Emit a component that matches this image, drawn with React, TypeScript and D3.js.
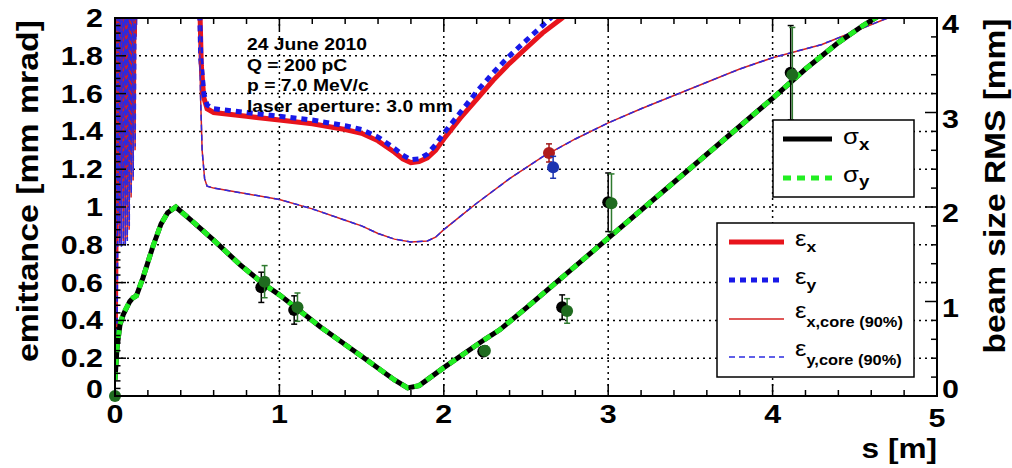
import React from 'react';
import * as d3 from 'd3';

type Pt = [number, number];

// s [m] vs emittance [mm mrad]
const emitX: Pt[] = [
  [0, 0.12], [0.004, 0.55], [0.008, 1.05], [0.012, 1.22], [0.016, 2.4], [0.021, 1.3], [0.026, 2.4],
  [0.031, 1.78], [0.036, 2.4], [0.041, 1.8], [0.046, 2.4], [0.052, 1.82], [0.058, 2.4], [0.064, 1.7],
  [0.07, 2.4], [0.076, 1.55], [0.083, 2.4], [0.09, 1.45], [0.097, 2.4], [0.104, 1.6], [0.111, 2.4],
  [0.118, 1.9], [0.125, 2.4], [0.2, 3.5], [0.4, 3.5], [0.5, 3.0],
  [0.515, 2.1], [0.525, 1.75], [0.54, 1.58], [0.56, 1.52], [0.6, 1.5], [0.8, 1.48], [1.0, 1.46],
  [1.2, 1.44], [1.4, 1.41], [1.5, 1.39], [1.6, 1.35], [1.7, 1.29], [1.75, 1.255], [1.8, 1.235],
  [1.85, 1.24], [1.9, 1.26], [1.95, 1.3], [2.0, 1.36], [2.1, 1.47], [2.2, 1.57], [2.3, 1.67],
  [2.4, 1.76], [2.5, 1.84], [2.6, 1.92], [2.72, 2.0], [2.8, 2.06],
];
const emitY: Pt[] = [
  [0, 0.15], [0.004, 0.6], [0.008, 1.1], [0.013, 1.25], [0.018, 2.4], [0.023, 1.35], [0.028, 2.4],
  [0.033, 1.82], [0.038, 2.4], [0.043, 1.85], [0.048, 2.4], [0.054, 1.85], [0.06, 2.4], [0.066, 1.72],
  [0.072, 2.4], [0.078, 1.6], [0.085, 2.4], [0.092, 1.5], [0.099, 2.4], [0.106, 1.65], [0.113, 2.4],
  [0.12, 1.95], [0.127, 2.4], [0.2, 3.5], [0.4, 3.5], [0.5, 3.0],
  [0.513, 2.1], [0.522, 1.78], [0.54, 1.6], [0.56, 1.54], [0.6, 1.52], [0.8, 1.5], [1.0, 1.48],
  [1.2, 1.46], [1.4, 1.43], [1.5, 1.41], [1.6, 1.37], [1.7, 1.31], [1.75, 1.275], [1.8, 1.25],
  [1.85, 1.255], [1.9, 1.28], [1.95, 1.33], [2.0, 1.39], [2.1, 1.5], [2.2, 1.61], [2.3, 1.71],
  [2.4, 1.8], [2.5, 1.88], [2.6, 1.96], [2.7, 2.04],
];
const emitXCore: Pt[] = [
  [0, 0.12], [0.004, 0.55], [0.008, 1.0], [0.011, 2.4], [0.016, 0.95], [0.021, 2.4], [0.027, 0.82],
  [0.032, 2.4], [0.038, 0.8], [0.044, 2.4], [0.05, 0.82], [0.056, 2.4], [0.062, 0.8], [0.068, 2.4],
  [0.074, 0.83], [0.08, 2.4], [0.086, 0.88], [0.092, 2.4], [0.098, 1.05], [0.104, 2.4], [0.11, 1.14],
  [0.116, 2.4], [0.122, 1.3], [0.128, 2.4], [0.2, 3.5], [0.4, 3.5], [0.5, 3.0],
  [0.51, 2.2], [0.52, 1.6], [0.53, 1.3], [0.545, 1.15], [0.56, 1.11], [0.6, 1.1], [0.8, 1.07],
  [1.0, 1.04], [1.2, 0.99], [1.4, 0.93], [1.5, 0.9], [1.6, 0.86], [1.7, 0.83], [1.8, 0.815],
  [1.9, 0.82], [1.95, 0.84], [2.0, 0.88], [2.1, 0.95], [2.2, 1.02], [2.4, 1.15], [2.6, 1.265],
  [2.8, 1.36], [3.0, 1.445], [3.2, 1.52], [3.4, 1.59], [3.6, 1.66], [3.8, 1.73], [4.0, 1.79],
  [4.3, 1.86], [4.5, 1.93], [4.7, 2.0], [4.9, 2.06],
];
const emitYCore: Pt[] = [
  [0, 0.14], [0.004, 0.6], [0.009, 1.05], [0.012, 2.4], [0.017, 0.92], [0.022, 2.4], [0.028, 0.8],
  [0.033, 2.4], [0.039, 0.79], [0.045, 2.4], [0.051, 0.8], [0.057, 2.4], [0.063, 0.79], [0.069, 2.4],
  [0.075, 0.82], [0.081, 2.4], [0.087, 0.9], [0.093, 2.4], [0.099, 1.07], [0.105, 2.4], [0.111, 1.16],
  [0.117, 2.4], [0.123, 1.32], [0.129, 2.4], [0.2, 3.5], [0.4, 3.5], [0.5, 3.0],
  [0.51, 2.2], [0.52, 1.6], [0.53, 1.3], [0.545, 1.15], [0.56, 1.11], [0.6, 1.1], [0.8, 1.07],
  [1.0, 1.04], [1.2, 0.99], [1.4, 0.93], [1.5, 0.9], [1.6, 0.86], [1.7, 0.83], [1.8, 0.815],
  [1.9, 0.82], [1.95, 0.84], [2.0, 0.88], [2.1, 0.95], [2.2, 1.02], [2.4, 1.15], [2.6, 1.265],
  [2.8, 1.36], [3.0, 1.445], [3.2, 1.52], [3.4, 1.59], [3.6, 1.66], [3.8, 1.73], [4.0, 1.79],
  [4.3, 1.86], [4.5, 1.93], [4.7, 2.0], [4.9, 2.06],
];

// s [m] vs beam size RMS [mm]
const sigmaX: Pt[] = [
  [0, 0.17], [0.012, 0.5], [0.03, 0.75], [0.05, 0.86], [0.09, 1.0], [0.11, 1.04], [0.13, 1.06],
  [0.17, 1.25], [0.23, 1.58], [0.28, 1.82], [0.32, 1.94], [0.37, 2.0], [0.45, 1.88], [0.6, 1.65],
  [0.76, 1.39], [0.9, 1.19], [1.0, 1.07], [1.25, 0.73], [1.5, 0.42], [1.7, 0.17], [1.78, 0.085],
  [1.85, 0.11], [2.0, 0.3], [2.25, 0.6], [2.34, 0.7], [2.5, 0.93], [3.0, 1.67], [3.5, 2.41],
  [4.0, 3.15], [4.2, 3.46], [4.4, 3.74], [4.55, 3.92], [4.7, 4.08], [4.85, 4.22],
];
const sigmaY: Pt[] = [
  [0, 0.17], [0.012, 0.5], [0.03, 0.76], [0.05, 0.87], [0.09, 1.0], [0.11, 1.04], [0.13, 1.06],
  [0.17, 1.25], [0.23, 1.58], [0.28, 1.82], [0.32, 1.94], [0.37, 2.0], [0.45, 1.88], [0.6, 1.65],
  [0.76, 1.39], [0.9, 1.19], [1.0, 1.07], [1.25, 0.73], [1.5, 0.42], [1.7, 0.17], [1.78, 0.085],
  [1.85, 0.11], [2.0, 0.3], [2.25, 0.6], [2.34, 0.7], [2.5, 0.93], [3.0, 1.67], [3.5, 2.41],
  [4.0, 3.15], [4.2, 3.46], [4.4, 3.74], [4.55, 3.92], [4.7, 4.08], [4.85, 4.22],
];

// measurements
const sigXMeasS = [0.89, 1.09, 2.24, 2.72, 3.0, 4.11];
const sigXMeasV = [1.15, 0.91, 0.47, 0.94, 2.05, 3.42];
const sigXMeasE = [0.16, 0.15, 0.05, 0.13, 0.31, 0.5];
const sigYMeasS = [0, 0.91, 1.11, 2.25, 2.75, 3.02, 4.12];
const sigYMeasV = [0, 1.21, 0.94, 0.48, 0.9, 2.04, 3.4];
const sigYMeasE = [0, 0.17, 0.15, 0.05, 0.13, 0.31, 0.5];
const emitMeasS = [2.64, 2.665];
const emitMeasV = [1.286, 1.21];
const emitMeasE = [0.048, 0.058];

const xTicks = [0, 1, 2, 3, 4, 5];
const xLabels = ['0', '1', '2', '3', '4', '5'];
const yTicks = [0, 0.2, 0.4, 0.6, 0.8, 1, 1.2, 1.4, 1.6, 1.8, 2];
const yLabels = ['0', '0.2', '0.4', '0.6', '0.8', '1', '1.2', '1.4', '1.6', '1.8', '2'];
const rTicks = [0, 1, 2, 3, 4];
const rLabels = ['0', '1', '2', '3', '4'];
const infoLines = ['24 June 2010', 'Q = 200 pC', 'p = 7.0 MeV/c', 'laser aperture: 3.0 mm'];

const W = 1012;
const H = 468;
const L = 115, R = 937, T = 18, B = 396;
const FONT = "'Liberation Sans', Arial, Helvetica, sans-serif";
const SX = 1.17;

const RED = '#e8141c';
const BLUE = '#1818e8';
const GREEN = '#22ee22';
const DKGREEN = '#1f6b1f';

const x = d3.scaleLinear().domain([0, 5]).range([L, R]);
const yL = d3.scaleLinear().domain([0, 2]).range([B, T]);
const yR = d3.scaleLinear().domain([0, 4]).range([B, T]);

const lineL = d3.line<Pt>().x(d => x(d[0])).y(d => yL(d[1]));
const lineR = d3.line<Pt>().x(d => x(d[0])).y(d => yR(d[1]));

function Txt(props: { x: number; y: number; anchor?: string; size: number; bold?: boolean; children: React.ReactNode }) {
  return (
    <text
      transform={`translate(${props.x},${props.y}) scale(${SX},1)`}
      textAnchor={props.anchor || 'start'}
      fontSize={props.size}
      fontWeight={props.bold === false ? 'normal' : 'bold'}
      fontFamily={FONT}
      fill="#000"
    >
      {props.children}
    </text>
  );
}

function ErrPoint(props: { cx: number; cy: number; top: number; bot: number; color: string; bar: string }) {
  const { cx, cy, top, bot, color, bar } = props;
  return (
    <g>
      <line x1={cx} x2={cx} y1={top} y2={bot} stroke={bar} strokeWidth={1.5} />
      <line x1={cx - 3} x2={cx + 3} y1={top} y2={top} stroke={bar} strokeWidth={1.5} />
      <line x1={cx - 3} x2={cx + 3} y1={bot} y2={bot} stroke={bar} strokeWidth={1.5} />
      <circle cx={cx} cy={cy} r={6} fill={color} />
    </g>
  );
}

export default function App() {
  const xMinor = d3.range(0, 5.0001, 0.2);
  const yMinor = d3.range(0, 2.0001, 0.04);
  const rMinor = d3.range(0, 4.0001, 0.2);
  const grid = '2,4';

  return (
    <svg width={W} height={H} style={{ position: 'absolute', left: 0, top: 0, background: '#fff' }}>
      <defs>
        <clipPath id="plotclip">
          <rect x={L} y={T} width={R - L} height={B - T} />
        </clipPath>
      </defs>
      <rect x={0} y={0} width={W} height={H} fill="#fff" />

      {/* grid */}
      {yTicks.slice(1, -1).map(v => (
        <line key={'gy' + v} x1={L} x2={R} y1={yL(v)} y2={yL(v)} stroke="#000" strokeWidth={1.5} strokeDasharray={grid} />
      ))}
      {xTicks.slice(1, -1).map(v => (
        <line key={'gx' + v} x1={x(v)} x2={x(v)} y1={T} y2={B} stroke="#000" strokeWidth={1.5} strokeDasharray={grid} />
      ))}

      {/* curves */}
      <g clipPath="url(#plotclip)" fill="none">
        <path d={lineL(emitX) || ''} stroke={RED} strokeWidth={5} />
        <path d={lineL(emitY) || ''} stroke={BLUE} strokeWidth={5} strokeDasharray="6,5" />
        <path d={lineL(emitXCore) || ''} stroke="#d42020" strokeWidth={1.5} />
        <path d={lineL(emitYCore) || ''} stroke="#2a2ae0" strokeWidth={1.5} strokeDasharray="6,4" />
        <path d={lineR(sigmaX) || ''} stroke="#000" strokeWidth={5} />
        <path d={lineR(sigmaY) || ''} stroke={GREEN} strokeWidth={5} strokeDasharray="8,6" />
      </g>

      {/* measured points */}
      {sigXMeasS.map((s, i) => (
        <ErrPoint key={'mx' + i} cx={x(s)} cy={yR(sigXMeasV[i])} top={yR(sigXMeasV[i] + sigXMeasE[i])}
          bot={yR(sigXMeasV[i] - sigXMeasE[i])} color="#000" bar="#000" />
      ))}
      {sigYMeasS.map((s, i) => (
        <ErrPoint key={'my' + i} cx={x(s)} cy={yR(sigYMeasV[i])} top={yR(sigYMeasV[i] + sigYMeasE[i])}
          bot={yR(sigYMeasV[i] - sigYMeasE[i])} color={DKGREEN} bar="#2f7a2f" />
      ))}
      {emitMeasS.map((s, i) => (
        <ErrPoint key={'me' + i} cx={x(s)} cy={yL(emitMeasV[i])} top={yL(emitMeasV[i] + emitMeasE[i])}
          bot={yL(emitMeasV[i] - emitMeasE[i])} color={i === 0 ? '#b01c1c' : '#1c34b0'} bar={i === 0 ? '#a01818' : '#1c34b0'} />
      ))}

      {/* frame & ticks */}
      <rect x={L} y={T} width={R - L} height={B - T} fill="none" stroke="#000" strokeWidth={2} />
      {xMinor.map((v, i) => {
        const len = i % 5 === 0 ? 12 : 6;
        return (
          <g key={'xt' + i}>
            <line x1={x(v)} x2={x(v)} y1={B} y2={B - len} stroke="#000" strokeWidth={1.5} />
            <line x1={x(v)} x2={x(v)} y1={T} y2={T + len} stroke="#000" strokeWidth={1.5} />
          </g>
        );
      })}
      {yMinor.map((v, i) => (
        <line key={'yt' + i} x1={L} x2={L + (i % 5 === 0 ? 11 : 5.5)} y1={yL(v)} y2={yL(v)} stroke="#000" strokeWidth={1.5} />
      ))}
      {rMinor.map((v, i) => (
        <line key={'rt' + i} x1={R} x2={R - (i % 5 === 0 ? 12 : 6)} y1={yR(v)} y2={yR(v)} stroke="#000" strokeWidth={1.5} />
      ))}

      {/* tick labels */}
      {xTicks.map((v, i) => (
        <Txt key={'xl' + v} x={x(v)} y={i === 5 ? 427 : 423} anchor="middle" size={26}>{xLabels[i]}</Txt>
      ))}
      {yTicks.map((v, i) => (
        <Txt key={'yl' + v} x={103} y={yL(v) + (i === 0 ? 2 : 9)} anchor="end" size={26}>{yLabels[i]}</Txt>
      ))}
      {rTicks.map((v, i) => (
        <Txt key={'rl' + v} x={942} y={yR(v) + (i === 0 ? 2 : 15)} anchor="start" size={26}>{rLabels[i]}</Txt>
      ))}

      {/* axis titles */}
      <Txt x={937} y={458} anchor="end" size={27}>s [m]</Txt>
      <text transform="translate(38,191) rotate(-90)" textAnchor="middle" fontSize={30} fontWeight="bold"
        fontFamily={FONT} textLength={342} lengthAdjust="spacingAndGlyphs">emittance [mm mrad]</text>
      <text transform="translate(1005,186) rotate(-90)" textAnchor="middle" fontSize={30} fontWeight="bold"
        fontFamily={FONT} textLength={335} lengthAdjust="spacingAndGlyphs">beam size RMS [mm]</text>

      {/* info text */}
      {infoLines.map((t, i) => (
        <Txt key={'info' + i} x={247} y={50 + i * 20.7} size={16.5}>{t}</Txt>
      ))}

      {/* legend sigma */}
      <rect x={773} y={120} width={141} height={77} fill="#fff" stroke="#000" strokeWidth={1.5} />
      <line x1={783} x2={832} y1={139} y2={139} stroke="#000" strokeWidth={5} />
      <Txt x={843} y={144} size={22} bold={false}>σ<tspan fontSize={16} fontWeight="bold" dy={6}>x</tspan></Txt>
      <line x1={783} x2={832} y1={178} y2={178} stroke={GREEN} strokeWidth={5} strokeDasharray="8,6" />
      <Txt x={843} y={182} size={22} bold={false}>σ<tspan fontSize={16} fontWeight="bold" dy={5}>y</tspan></Txt>

      {/* legend emittance */}
      <rect x={717} y={223} width={197} height={154} fill="#fff" stroke="#000" strokeWidth={1.5} />
      <line x1={729} x2={784} y1={242} y2={242} stroke={RED} strokeWidth={5} />
      <line x1={729} x2={784} y1={280} y2={280} stroke={BLUE} strokeWidth={5} strokeDasharray="6,5" />
      <line x1={729} x2={784} y1={319} y2={319} stroke="#d42020" strokeWidth={1.5} />
      <line x1={729} x2={784} y1={357} y2={357} stroke="#2a2ae0" strokeWidth={1.5} strokeDasharray="6,4" />
      <Txt x={795} y={246} size={22} bold={false}>ε<tspan fontSize={15} fontWeight="bold" dy={6}>x</tspan></Txt>
      <Txt x={795} y={284} size={22} bold={false}>ε<tspan fontSize={15} fontWeight="bold" dy={6}>y</tspan></Txt>
      <Txt x={795} y={318} size={22} bold={false}>ε<tspan fontSize={14} fontWeight="bold" dy={9}>x,core (90%)</tspan></Txt>
      <Txt x={795} y={356} size={22} bold={false}>ε<tspan fontSize={14} fontWeight="bold" dy={9}>y,core (90%)</tspan></Txt>
    </svg>
  );
}
